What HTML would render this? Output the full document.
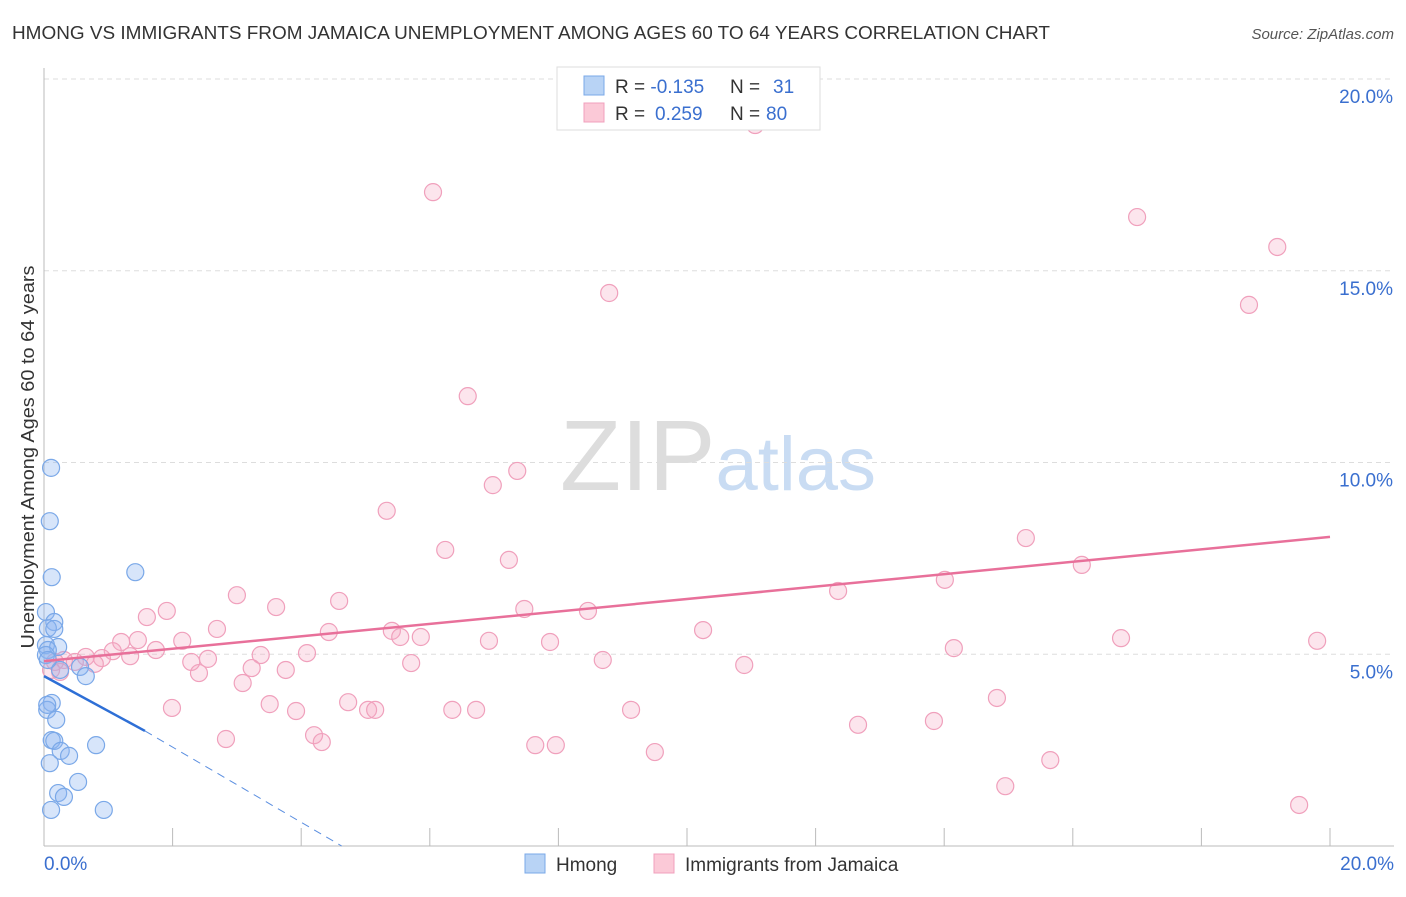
<!DOCTYPE html>
<html><head><meta charset="utf-8"><style>
body{margin:0;background:#fff;font-family:"Liberation Sans",sans-serif;}
svg text{font-family:"Liberation Sans",sans-serif;}
</style></head><body>
<svg id="chart" width="1406" height="892" xmlns="http://www.w3.org/2000/svg">
<text x="12" y="39" font-size="18" fill="#333" textLength="1038" lengthAdjust="spacingAndGlyphs">HMONG VS IMMIGRANTS FROM JAMAICA UNEMPLOYMENT AMONG AGES 60 TO 64 YEARS CORRELATION CHART</text>
<text x="1394" y="39" font-size="15" fill="#555" text-anchor="end" font-style="italic">Source: ZipAtlas.com</text>
<text transform="translate(34,457) rotate(-90)" font-size="18" fill="#333" text-anchor="middle" textLength="383" lengthAdjust="spacingAndGlyphs">Unemployment Among Ages 60 to 64 years</text>
<text x="718" y="490" font-size="100" text-anchor="middle" fill="#ddd" font-family="Liberation Serif">ZIP<tspan fill="#c9dcf3" font-family="Liberation Sans" font-size="76">atlas</tspan></text>
<g id="grid"></g><g id="axes"></g><g id="pts"></g><g id="trend"></g>
<g>
<rect x="557" y="67" width="263" height="63" fill="#fff" stroke="#ddd"/>
<rect x="584" y="76" width="20" height="19" fill="#b8d3f5" stroke="#7aa8e8"/>
<rect x="584" y="103" width="20" height="19" fill="#fbc9d7" stroke="#f0a0bc"/>
<text x="615" y="93" font-size="19" fill="#333">R = <tspan fill="#3a6fcf">-0.135</tspan><tspan x="730">N = </tspan><tspan x="773" fill="#3a6fcf">31</tspan></text>
<text x="615" y="120" font-size="19" fill="#333">R = <tspan x="655" fill="#3a6fcf">0.259</tspan><tspan x="730">N = </tspan><tspan x="766" fill="#3a6fcf">80</tspan></text>
</g>
<g>
<rect x="525" y="854" width="20" height="19" fill="#b8d3f5" stroke="#7aa8e8"/>
<text x="556" y="871" font-size="19" fill="#333">Hmong</text>
<rect x="654" y="854" width="20" height="19" fill="#fbc9d7" stroke="#f0a0bc"/>
<text x="685" y="871" font-size="19" fill="#333">Immigrants from Jamaica</text>
</g>
</svg>
<script>
const xTicks=[0,2,4,6,8,10,12,14,16,18,20];
const yTicks=[5,10,15,20];
const yTickLabels=["5.0%","10.0%","15.0%","20.0%"];
const hmongX=[0.11,0.09,0.12,0.03,0.16,0.06,0.16,0.03,0.22,0.06,0.56,0.65,1.42,0.25,0.12,0.05,0.19,0.12,0.16,0.26,0.39,0.81,0.09,0.53,0.22,0.31,0.11,0.93,0.03,0.06,0.05];
const hmongY=[9.86,8.47,7.01,6.10,5.84,5.68,5.66,5.24,5.19,5.11,4.67,4.43,7.14,4.59,3.73,3.55,3.29,2.76,2.74,2.48,2.35,2.63,2.16,1.67,1.38,1.28,0.94,0.94,4.98,4.85,3.68];
const jamX=[11.06,6.05,17.00,19.18,8.79,18.74,6.59,7.36,6.98,5.33,6.24,15.27,7.23,16.14,14.01,12.35,3.00,4.59,1.91,3.61,7.47,8.46,1.60,2.69,4.43,10.25,5.41,5.86,5.54,1.20,1.46,2.15,6.92,7.87,16.75,19.80,1.74,1.07,3.37,4.09,14.15,0.65,0.31,0.90,1.34,2.29,2.55,8.69,5.71,10.89,3.23,0.79,3.76,2.41,0.17,0.25,3.09,1.99,3.51,3.92,4.73,5.04,5.15,6.35,6.72,9.13,14.82,12.66,13.84,2.83,4.20,4.32,7.64,7.96,9.50,15.65,14.95,19.52,0.11,0.48];
const jamY=[18.80,17.05,16.40,15.62,14.42,14.11,11.73,9.78,9.41,8.74,7.72,8.03,7.46,7.33,6.94,6.65,6.54,6.39,6.13,6.23,6.18,6.13,5.97,5.66,5.58,5.63,5.61,5.45,5.45,5.32,5.37,5.35,5.35,5.32,5.42,5.35,5.11,5.08,4.98,5.03,5.16,4.93,4.85,4.90,4.95,4.80,4.88,4.85,4.77,4.72,4.64,4.75,4.59,4.51,4.80,4.54,4.25,3.60,3.70,3.52,3.75,3.55,3.55,3.55,3.55,3.55,3.86,3.16,3.26,2.79,2.89,2.71,2.63,2.63,2.45,2.24,1.56,1.07,4.59,4.80];
const jamTrend=[[0,4.82],[20,8.06]];
const hmongTrendSolid=[[0,4.43],[1.57,3.0]];
const hmongTrendDash=[[1.57,3.0],[4.63,0]];
const NS="http://www.w3.org/2000/svg";
const sx=v=>44+v*64.3, sy=v=>846-v*38.35;
function mk(t,a,p){const e=document.createElementNS(NS,t);for(const k in a)e.setAttribute(k,a[k]);document.getElementById(p).appendChild(e);return e;}
yTicks.forEach((t,i)=>{
 const g=mk('line',{x1:44,x2:1394,y1:sy(t),y2:sy(t),stroke:'#ddd','stroke-dasharray':'5,4'},'grid');
 
 
 const l=mk('text',{x:1393,y:sy(t)+24,'font-size':19,fill:'#3a6fcf','text-anchor':'end'},'axes');
 l.textContent=yTickLabels[i];
 
 
});
mk('line',{x1:44,x2:44,y1:68,y2:846,stroke:'#bbb'},'axes');
mk('line',{x1:44,x2:1394,y1:846,y2:846,stroke:'#bbb'},'axes');
xTicks.forEach(t=>{const e=mk('line',{x1:sx(t),x2:sx(t),y1:828,y2:846,stroke:'#bbb'},'axes');
 
 });
let a=mk('text',{x:44,y:870,'font-size':19,fill:'#3a6fcf'},'axes');a.textContent='0.0%';


a=mk('text',{x:1394,y:870,'font-size':19,fill:'#3a6fcf','text-anchor':'end'},'axes');a.textContent='20.0%';


jamX.forEach((x,i)=>{const c=mk('circle',{cx:sx(x),cy:sy(jamY[i]),r:8.5,fill:'rgba(246,170,196,0.3)',stroke:'#f0a0bc','stroke-width':1.2},'pts');
 
 });
hmongX.forEach((x,i)=>{const c=mk('circle',{cx:sx(x),cy:sy(hmongY[i]),r:8.5,fill:'rgba(140,180,240,0.35)',stroke:'#7aa8e8','stroke-width':1.2},'pts');
 
 });
let t=mk('line',{x1:sx(jamTrend[0][0]),y1:sy(jamTrend[0][1]),x2:sx(jamTrend[1][0]),y2:sy(jamTrend[1][1]),stroke:'#e8709a','stroke-width':2.5},'trend');


t=mk('line',{x1:sx(hmongTrendSolid[0][0]),y1:sy(hmongTrendSolid[0][1]),x2:sx(hmongTrendSolid[1][0]),y2:sy(hmongTrendSolid[1][1]),stroke:'#2e6fd6','stroke-width':2.5},'trend');


t=mk('line',{x1:sx(hmongTrendDash[0][0]),y1:sy(hmongTrendDash[0][1]),x2:sx(hmongTrendDash[1][0]),y2:sy(hmongTrendDash[1][1]),stroke:'#5a8ee0','stroke-width':1,'stroke-dasharray':'8,6'},'trend');


</script>
</body></html>
